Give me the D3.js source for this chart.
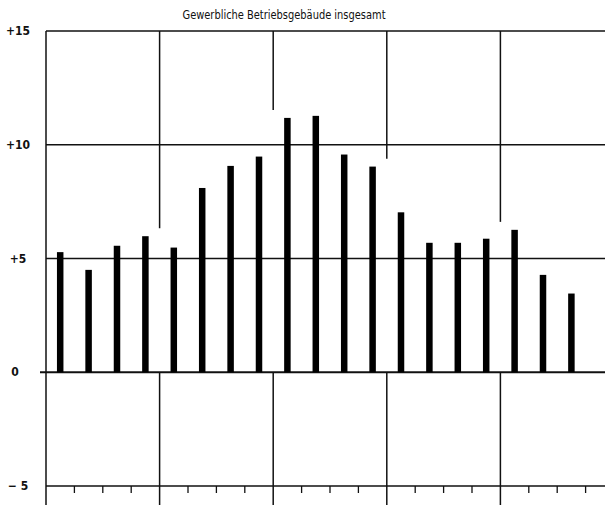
<!DOCTYPE html>
<html><head><meta charset="utf-8">
<script src="https://cdn.jsdelivr.net/npm/d3@7"></script>
<style>
html,body{margin:0;padding:0;background:#fff;}
svg{display:block;}
text{font-family:"DejaVu Sans",sans-serif;font-stretch:condensed;fill:#111;}
</style></head>
<body>
<script>
const title = "Gewerbliche Betriebsgebäude insgesamt";
const categories = ["1","2","3","4","5","6","7","8","9","10","11","12","13","14","15","16","17","18","19"];
const values = [5.28, 4.5, 5.56, 5.98, 5.48, 8.1, 9.07, 9.48, 11.18, 11.27, 9.57, 9.04, 7.03, 5.69, 5.69, 5.87, 6.26, 4.28, 3.46];
const yTicks = [15, 10, 5, 0, -5];
const yTickLabels = ["+15", "+10", "+5", "0", "\u2212 5"];

const W = 605, H = 505;
const svg = d3.select("body").append("svg").attr("width", W).attr("height", H);

const slots = 20;
const x = d3.scaleLinear().domain([0, slots]).range([46, 614]);
const y = d3.scaleLinear().domain([-5, 15]).range([486, 31]);
const ink = "#111";

// title
svg.append("text").attr("x", 284).attr("y", 19).attr("text-anchor", "middle")
  .attr("font-size", 13).attr("textLength", 203).attr("lengthAdjust", "spacingAndGlyphs")
  .text(title);

// horizontal gridlines
svg.append("g").selectAll("line").data(yTicks).join("line")
  .attr("x1", d => d === 0 ? 40 : 46).attr("x2", W)
  .attr("y1", d => y(d)).attr("y2", d => y(d))
  .attr("stroke", ink).attr("stroke-width", d => d === 0 ? 2.2 : 1.5);

// y labels
svg.append("g").selectAll("text").data(yTicks).join("text")
  .attr("x", (d, i) => d === 0 ? 15 : 18).attr("y", d => y(d) + 4)
  .attr("text-anchor", "middle").attr("font-size", 12).attr("font-weight", "bold")
  .text((d, i) => yTickLabels[i]);

// left axis
svg.append("line").attr("x1", x(0)).attr("x2", x(0)).attr("y1", y(15)).attr("y2", H)
  .attr("stroke", ink).attr("stroke-width", 1.5);

// vertical major gridlines, broken above the bars
const majors = [4, 8, 12, 16];
majors.forEach(m => {
  const left = values[m - 1], right = values[m];
  const top = Math.max(left, right) + 0.35;
  svg.append("line").attr("x1", x(m)).attr("x2", x(m))
    .attr("y1", y(15)).attr("y2", y(top))
    .attr("stroke", ink).attr("stroke-width", 1.5);
  svg.append("line").attr("x1", x(m)).attr("x2", x(m))
    .attr("y1", y(0)).attr("y2", H)
    .attr("stroke", ink).attr("stroke-width", 1.5);
});

// bottom minor ticks
svg.append("g").selectAll("line").data(d3.range(1, slots).filter(k => k % 4 !== 0)).join("line")
  .attr("x1", k => x(k)).attr("x2", k => x(k))
  .attr("y1", y(-5)).attr("y2", y(-5) + 7)
  .attr("stroke", ink).attr("stroke-width", 1.3);

// bars
const bw = 6.5;
svg.append("g").selectAll("rect").data(values).join("rect")
  .attr("x", (d, i) => x(i + 0.5) - bw / 2)
  .attr("width", bw)
  .attr("y", d => y(Math.max(0, d)))
  .attr("height", d => Math.abs(y(d) - y(0)))
  .attr("fill", "#000");
</script>
</body></html>
